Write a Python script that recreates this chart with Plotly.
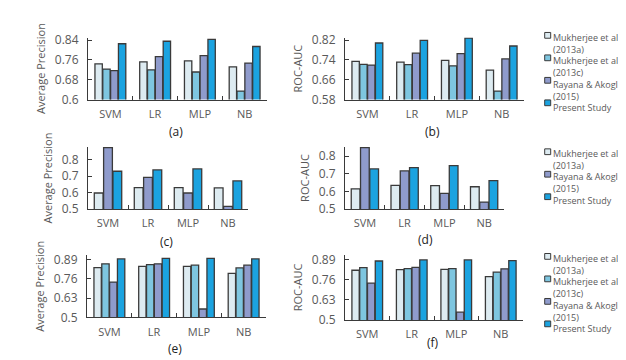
import plotly.graph_objects as go

W, H = 626, 360

categories = ["SVM", "LR", "MLP", "NB"]

name_muk_a = "Mukherjee et al., (2013a)"
name_muk_c = "Mukherjee et al., (2013c)"
name_rayana = "Rayana & Akoglu, (2015)"
name_present = "Present Study"

# (a) Average Precision
a_muk_a = [0.744, 0.752, 0.756, 0.732]
a_muk_c = [0.723, 0.720, 0.711, 0.634]
a_rayana = [0.717, 0.773, 0.777, 0.747]
a_present = [0.825, 0.835, 0.843, 0.814]
# (b) ROC-AUC
b_muk_a = [0.734, 0.731, 0.738, 0.699]
b_muk_c = [0.722, 0.721, 0.716, 0.614]
b_rayana = [0.719, 0.767, 0.765, 0.744]
b_present = [0.808, 0.819, 0.828, 0.796]
# (c) Average Precision
c_muk_a = [0.598, 0.630, 0.630, 0.629]
c_rayana = [0.874, 0.693, 0.598, 0.516]
c_present = [0.730, 0.738, 0.744, 0.671]
# (d) ROC-AUC
d_muk_a = [0.615, 0.635, 0.633, 0.627]
d_rayana = [0.849, 0.717, 0.589, 0.540]
d_present = [0.728, 0.735, 0.747, 0.662]
# (e) Average Precision
e_muk_a = [0.836, 0.845, 0.845, 0.797]
e_muk_c = [0.862, 0.857, 0.853, 0.834]
e_rayana = [0.739, 0.862, 0.557, 0.853]
e_present = [0.895, 0.899, 0.899, 0.895]
# (f) ROC-AUC
f_muk_a = [0.821, 0.825, 0.827, 0.780]
f_muk_c = [0.838, 0.832, 0.832, 0.809]
f_rayana = [0.738, 0.840, 0.550, 0.830]
f_present = [0.881, 0.888, 0.888, 0.883]

ticks_a = [0.6, 0.68, 0.76, 0.84]
ticks_b = [0.58, 0.66, 0.74, 0.82]
ticks_cd = [0.5, 0.6, 0.7, 0.8]
ticks_ef = [0.5, 0.63, 0.76, 0.89]

colors = {
    name_muk_a: "#DDEBF1",
    name_muk_c: "#7EC6E0",
    name_rayana: "#8F9BCC",
    name_present: "#1BA3E0",
}
EDGE = "#3A3A3A"
GREY = "#595959"
FONT = "Open Sans"


def px_x(x):
    return x / W


def px_y(y):
    return 1 - y / H


panels = [
    ("a", [(name_muk_a, a_muk_a), (name_muk_c, a_muk_c), (name_rayana, a_rayana), (name_present, a_present)],
     ticks_a, [0.6, 0.85], (80, 259), (24.5, 89), "Average Precision"),
    ("b", [(name_muk_a, b_muk_a), (name_muk_c, b_muk_c), (name_rayana, b_rayana), (name_present, b_present)],
     ticks_b, [0.58, 0.83], (337, 516), (24.5, 89), "ROC-AUC"),
    ("c", [(name_muk_a, c_muk_a), (name_rayana, c_rayana), (name_present, c_present)],
     ticks_cd, [0.5, 0.878], (80, 240), (138.3, 203), "Average Precision"),
    ("d", [(name_muk_a, d_muk_a), (name_rayana, d_rayana), (name_present, d_present)],
     ticks_cd, [0.5, 0.853], (337, 496), (138.3, 203), "ROC-AUC"),
    ("e", [(name_muk_a, e_muk_a), (name_muk_c, e_muk_c), (name_rayana, e_rayana), (name_present, e_present)],
     ticks_ef, [0.5, 0.92], (79, 258), (251, 315.7), "Average Precision"),
    ("f", [(name_muk_a, f_muk_a), (name_muk_c, f_muk_c), (name_rayana, f_rayana), (name_present, f_present)],
     ticks_ef, [0.5, 0.92], (337, 515), (250.7, 318.3), "ROC-AUC"),
]

fig = go.Figure()
layout = {}
for i, (key, series, tv, rng, dx, dy, title) in enumerate(panels):
    n = "" if i == 0 else str(i + 1)
    xa, ya = "x" + n, "y" + n
    for name, vals in series:
        fig.add_trace(go.Bar(
            x=categories, y=vals, name=name, xaxis=xa, yaxis=ya,
            marker=dict(color=colors[name], line=dict(color=EDGE, width=1.3)),
            showlegend=False, offsetgroup=name,
        ))
    layout["xaxis" + n] = dict(
        domain=[px_x(dx[0]), px_x(dx[1])], anchor=ya,
        showline=True, linecolor=EDGE, linewidth=1,
        ticks="inside", tickson="boundaries", ticklen=4, tickcolor=EDGE,
        tickfont=dict(family=FONT, size=11, color=GREY),
        ticklabelstandoff=4, showgrid=False, zeroline=False,
    )
    layout["yaxis" + n] = dict(
        domain=[px_y(dy[1]), px_y(dy[0])], anchor=xa, range=rng,
        tickvals=tv, ticktext=[("%g" % t) for t in tv],
        showline=True, linecolor=EDGE, linewidth=1,
        ticks="inside", ticklen=4, tickcolor=EDGE,
        tickfont=dict(family=FONT, size=12, color=GREY),
        ticklabelstandoff=6, showgrid=False, zeroline=False,
        title=dict(text=title, font=dict(family=FONT, size=11, color=GREY), standoff=6),
    )

fig.update_layout(**layout)
fig.update_layout(barmode="group", bargap=0.3, bargroupgap=0.06)

annotations = []
shapes = []
for lab, x, y in [("(a)", 168, 122), ("(b)", 424, 122), ("(c)", 158, 237),
                  ("(d)", 417, 235), ("(e)", 167, 348), ("(f)", 425, 342)]:
    annotations.append(dict(text=lab, x=px_x(x), y=px_y(y), xref="paper", yref="paper",
                            showarrow=False, xanchor="center", yanchor="middle",
                            font=dict(family=FONT, size=12, color="#222222")))

# one legend per row, drawn as swatches + a multi-line text block
LEG_FS = 9
LH = LEG_FS * 1.3
legend_rows = [
    ([name_muk_a, name_muk_c, name_rayana, name_present], 22.2),
    ([name_muk_a, name_rayana, name_present], 143.3),
    ([name_muk_a, name_muk_c, name_rayana, name_present], 252.2),
]
for names, y0 in legend_rows:
    lines = []
    for name in names:
        y = y0 + len(lines) * LH
        shapes.append(dict(type="rect", xref="paper", yref="paper",
                           x0=px_x(536.7), x1=px_x(542.7), y0=px_y(y + 3), y1=px_y(y - 3),
                           fillcolor=colors[name], line=dict(color=EDGE, width=1)))
        if name == name_present:
            lines.append(name)
        else:
            a, b = name.split(", ")
            lines += [a + ",", b]
    annotations.append(dict(text="<br>".join(lines), x=px_x(543.5), y=px_y(y0 - LH / 2),
                            xref="paper", yref="paper", showarrow=False,
                            xanchor="left", yanchor="top", align="left", borderpad=0,
                            font=dict(family=FONT, size=LEG_FS, color=GREY)))

fig.update_layout(
    width=W, height=H, margin=dict(l=0, r=0, t=0, b=0),
    paper_bgcolor="white", plot_bgcolor="white",
    annotations=annotations, shapes=shapes,
)

fig.write_html("out.html")
